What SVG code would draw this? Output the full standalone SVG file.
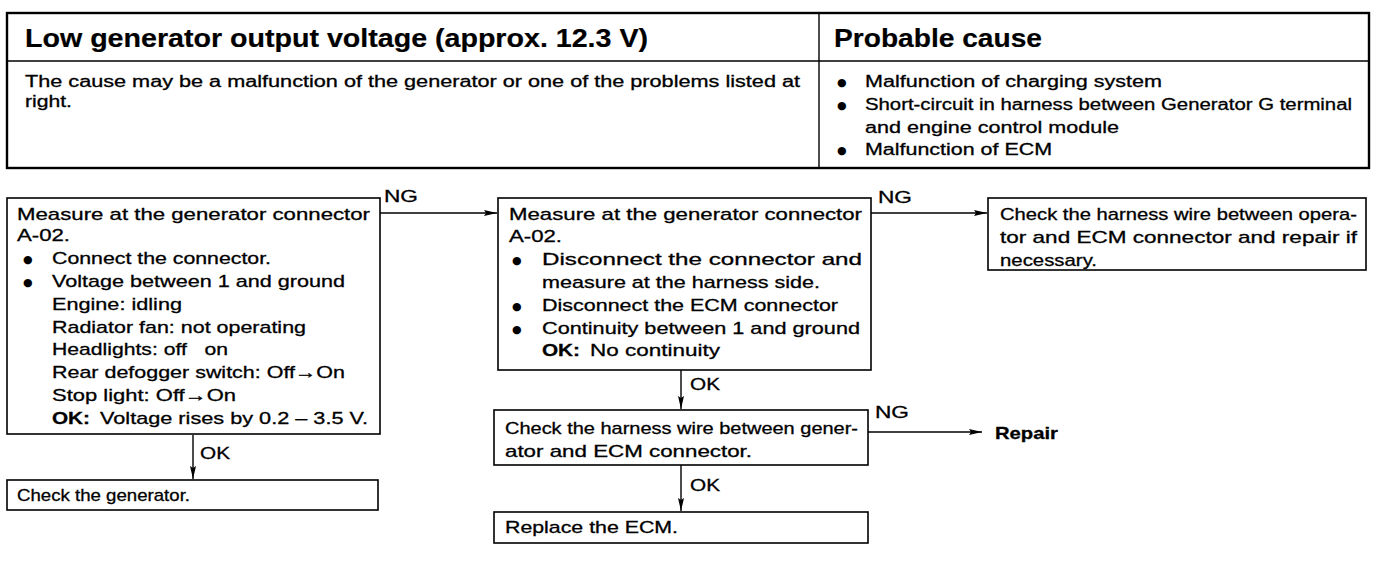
<svg xmlns="http://www.w3.org/2000/svg" width="1392" height="568" viewBox="0 0 1392 568">
<style>
text{font-family:"Liberation Sans",Arial,sans-serif;fill:#000;stroke:#000;stroke-width:0.3}
.t{font-size:17px}
.b{font-size:16px}
.h{font-size:25px;font-weight:bold;stroke-width:0.2}
.bold{font-weight:bold}
.box{fill:#fff;stroke:#000;stroke-width:1.6}
.tbl{fill:none;stroke:#000;stroke-width:2.4}
.ln{fill:none;stroke:#000;stroke-width:1.4}
.bul{font-family:"DejaVu Sans",sans-serif;font-size:11px;stroke-width:0}
.pre{white-space:pre}
</style>
<defs>
<marker id="ah" markerUnits="userSpaceOnUse" markerWidth="14" markerHeight="8" refX="13" refY="4" orient="auto">
<path d="M0,1 L13,4 L0,7 L2,4 z" fill="#000"/>
</marker>
</defs>
<rect width="1392" height="568" fill="#fff"/>

<g id="table">
<rect class="tbl" x="7" y="13" width="1362" height="155"/>
<line class="ln" x1="7" y1="61" x2="1369" y2="61"/>
<line class="ln" x1="819" y1="13" x2="819" y2="168"/>
<text class="h" x="25" y="47" textLength="623" lengthAdjust="spacingAndGlyphs">Low generator output voltage (approx. 12.3 V)</text>
<text class="h" x="834" y="47" textLength="208" lengthAdjust="spacingAndGlyphs">Probable cause</text>
<text class="b" x="25" y="87" textLength="775" lengthAdjust="spacingAndGlyphs">The cause may be a malfunction of the generator or one of the problems listed at</text>
<text class="b" x="25" y="107" textLength="47" lengthAdjust="spacingAndGlyphs">right.</text>
<text class="bul" x="837" y="86">●</text>
<text class="b" x="865" y="87" textLength="297" lengthAdjust="spacingAndGlyphs">Malfunction of charging system</text>
<text class="bul" x="837" y="109">●</text>
<text class="b" x="865" y="110" textLength="487" lengthAdjust="spacingAndGlyphs">Short-circuit in harness between Generator G terminal</text>
<text class="b" x="865" y="133" textLength="254" lengthAdjust="spacingAndGlyphs">and engine control module</text>
<text class="bul" x="837" y="154">●</text>
<text class="b" x="865" y="155" textLength="187" lengthAdjust="spacingAndGlyphs">Malfunction of ECM</text>
</g>

<g id="connectors">
<line class="ln" x1="380" y1="213" x2="497" y2="213" marker-end="url(#ah)"/>
<line class="ln" x1="871" y1="213" x2="987" y2="213" marker-end="url(#ah)"/>
<line class="ln" x1="193" y1="435" x2="193" y2="479" marker-end="url(#ah)"/>
<line class="ln" x1="681" y1="370" x2="681" y2="409" marker-end="url(#ah)"/>
<line class="ln" x1="868" y1="432" x2="982" y2="432" marker-end="url(#ah)"/>
<line class="ln" x1="681" y1="465" x2="681" y2="511" marker-end="url(#ah)"/>
<text class="t" x="384" y="202" textLength="34" lengthAdjust="spacingAndGlyphs">NG</text>
<text class="t" x="878" y="203" textLength="34" lengthAdjust="spacingAndGlyphs">NG</text>
<text class="t" x="875" y="418" textLength="34" lengthAdjust="spacingAndGlyphs">NG</text>
<text class="t" x="200" y="459" textLength="30" lengthAdjust="spacingAndGlyphs">OK</text>
<text class="t" x="690" y="390" textLength="30" lengthAdjust="spacingAndGlyphs">OK</text>
<text class="t" x="690" y="491" textLength="30" lengthAdjust="spacingAndGlyphs">OK</text>
</g>

<g id="nodeA">
<rect class="box" x="7" y="198" width="373" height="236"/>
<text class="t" x="17" y="220" textLength="353" lengthAdjust="spacingAndGlyphs">Measure at the generator connector</text>
<text class="t" x="17" y="241" textLength="53" lengthAdjust="spacingAndGlyphs">A-02.</text>
<text class="bul" x="23" y="263">●</text>
<text class="t" x="52" y="264" textLength="219" lengthAdjust="spacingAndGlyphs">Connect the connector.</text>
<text class="bul" x="23" y="286">●</text>
<text class="t" x="52" y="287" textLength="293" lengthAdjust="spacingAndGlyphs">Voltage between 1 and ground</text>
<text class="t" x="52" y="310" textLength="130" lengthAdjust="spacingAndGlyphs">Engine: idling</text>
<text class="t" x="52" y="333" textLength="254" lengthAdjust="spacingAndGlyphs">Radiator fan: not operating</text>
<text class="t pre" x="52" y="355" textLength="176" lengthAdjust="spacingAndGlyphs">Headlights: off   on</text>
<text class="t" x="52" y="378" textLength="293" lengthAdjust="spacingAndGlyphs">Rear defogger switch: Off→On</text>
<text class="t" x="52" y="401" textLength="184" lengthAdjust="spacingAndGlyphs">Stop light: Off→On</text>
<text class="t bold" x="52" y="424" textLength="38" lengthAdjust="spacingAndGlyphs">OK:</text>
<text class="t" x="100" y="424" textLength="268" lengthAdjust="spacingAndGlyphs">Voltage rises by 0.2 – 3.5 V.</text>
</g>

<g id="nodeA2">
<rect class="box" x="7" y="480" width="371" height="30"/>
<text class="t" x="17" y="501" textLength="173" lengthAdjust="spacingAndGlyphs">Check the generator.</text>
</g>

<g id="nodeB">
<rect class="box" x="498" y="198" width="373" height="172"/>
<text class="t" x="509" y="220" textLength="353" lengthAdjust="spacingAndGlyphs">Measure at the generator connector</text>
<text class="t" x="509" y="242" textLength="53" lengthAdjust="spacingAndGlyphs">A-02.</text>
<text class="bul" x="512" y="264">●</text>
<text class="t" x="542" y="265" textLength="320" lengthAdjust="spacingAndGlyphs">Disconnect the connector and</text>
<text class="t" x="542" y="288" textLength="278" lengthAdjust="spacingAndGlyphs">measure at the harness side.</text>
<text class="bul" x="512" y="310">●</text>
<text class="t" x="542" y="311" textLength="296" lengthAdjust="spacingAndGlyphs">Disconnect the ECM connector</text>
<text class="bul" x="512" y="333">●</text>
<text class="t" x="542" y="334" textLength="318" lengthAdjust="spacingAndGlyphs">Continuity between 1 and ground</text>
<text class="t bold" x="542" y="356" textLength="38" lengthAdjust="spacingAndGlyphs">OK:</text>
<text class="t" x="590" y="356" textLength="130" lengthAdjust="spacingAndGlyphs">No continuity</text>
</g>

<g id="nodeC">
<rect class="box" x="988" y="198" width="378" height="72"/>
<text class="t" x="1000" y="220" textLength="357" lengthAdjust="spacingAndGlyphs">Check the harness wire between opera-</text>
<text class="t" x="1000" y="243" textLength="357" lengthAdjust="spacingAndGlyphs">tor and ECM connector and repair if</text>
<text class="t" x="1000" y="266" textLength="97" lengthAdjust="spacingAndGlyphs">necessary.</text>
</g>

<g id="nodeD">
<rect class="box" x="494" y="410" width="374" height="55"/>
<text class="t" x="505" y="434" textLength="353" lengthAdjust="spacingAndGlyphs">Check the harness wire between gener-</text>
<text class="t" x="505" y="457" textLength="247" lengthAdjust="spacingAndGlyphs">ator and ECM connector.</text>
</g>

<g id="repair">
<text class="t bold" x="995" y="439" textLength="63" lengthAdjust="spacingAndGlyphs">Repair</text>
</g>

<g id="nodeE">
<rect class="box" x="494" y="512" width="374" height="31"/>
<text class="t" x="505" y="533" textLength="173" lengthAdjust="spacingAndGlyphs">Replace the ECM.</text>
</g>
</svg>
